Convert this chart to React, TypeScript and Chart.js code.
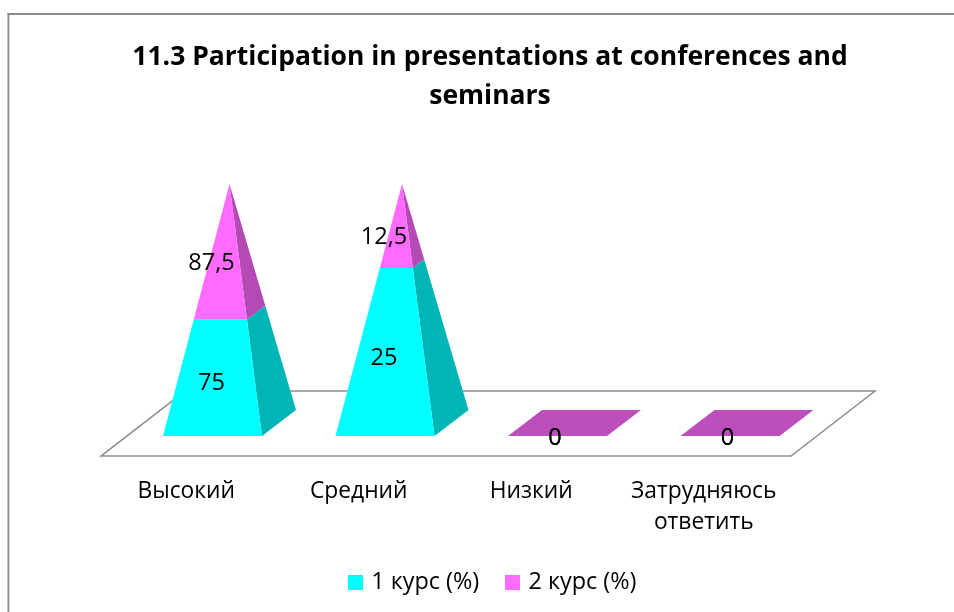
import React, { useEffect, useRef } from "react";
import { Chart, BarController, registerables } from "chart.js";

const categories: (string | string[])[] = ["Высокий", "Средний", "Низкий", ["Затрудняюсь", "ответить"]];
const course1 = [75, 25, 0, 0];
const course2 = [87.5, 12.5, 0, 0];
const titleLines = ["11.3 Participation in presentations at conferences and", "seminars"];
const FONT = "'Open Sans', sans-serif";

const DEPTH_X = 34;
const DEPTH_Y = 26;
const FLOOR_DX = 84;
const FLOOR_DY = 65;
const SHIFT_X = 25.25;

const share = (a: number, b: number) => (a + b > 0 ? (a / (a + b)) * 100 : 0);

const swatch = (color: string) => {
  const c = document.createElement("canvas");
  c.width = 15;
  c.height = 15;
  const g = c.getContext("2d") as CanvasRenderingContext2D;
  g.fillStyle = color;
  g.fillRect(0, 0, 15, 15);
  return c;
};

class PyramidController extends BarController {
  static id = "pyramid";
  static defaults = BarController.defaults;
  static overrides = BarController.overrides;
  draw() {
    const meta: any = this.getMeta();
    const ctx = this.chart.ctx;
    const ds: any = this.getDataset();
    const yScale: any = meta.vScale;
    const y0 = yScale.getPixelForValue(0);
    const yTop = yScale.getPixelForValue(100);
    meta.data.forEach((el: any, i: number) => {
      const xc = el.x + SHIFT_X;
      const w = el.width;
      const FL = [xc - w / 2, y0];
      const FR = [xc + w / 2, y0];
      const BR = [xc + w / 2 + DEPTH_X, y0 - DEPTH_Y];
      const BL = [xc - w / 2 + DEPTH_X, y0 - DEPTH_Y];
      const total = course1[i] + course2[i];
      const poly = (pts: number[][], fill: string) => {
        ctx.beginPath();
        pts.forEach((p, k) => (k ? ctx.lineTo(p[0], p[1]) : ctx.moveTo(p[0], p[1])));
        ctx.closePath();
        ctx.fillStyle = fill;
        ctx.fill();
      };
      if (total === 0) {
        if (ds.flatColor) poly([FL, FR, BR, BL], ds.flatColor);
        return;
      }
      const apex = [xc + DEPTH_X / 2, yTop];
      const at = (c: number[], t: number) => [c[0] + (apex[0] - c[0]) * t, c[1] + (apex[1] - c[1]) * t];
      const t0 = (y0 - el.base) / (y0 - yTop);
      const t1 = (y0 - el.y) / (y0 - yTop);
      poly([at(FR, t0), at(BR, t0), at(BR, t1), at(FR, t1)], ds.sideColor);
      poly([at(FL, t0), at(FR, t0), at(FR, t1), at(FL, t1)], ds.backgroundColor);
    });
  }
}

Chart.register(...registerables, PyramidController as any);

const framePlugin = {
  id: "frame",
  afterLayout(chart: any) {
    chart.legend.left += 4;
    chart.legend.right += 4;
  },
  beforeDraw(chart: any) {
    const { ctx, width, height } = chart;
    ctx.save();
    ctx.fillStyle = "#ffffff";
    ctx.fillRect(0, 0, width, height);
    ctx.fillStyle = "#8c8c8c";
    ctx.fillRect(7.5, 13, width - 7.5, 2);
    ctx.fillRect(7.5, 13, 1.8, height - 13);
    ctx.restore();
  },
  beforeDatasetsDraw(chart: any) {
    const { ctx, chartArea: a } = chart;
    ctx.save();
    ctx.strokeStyle = "#8f8f8f";
    ctx.lineWidth = 1.5;
    ctx.beginPath();
    ctx.moveTo(a.left, a.bottom);
    ctx.lineTo(a.right, a.bottom);
    ctx.lineTo(a.right + FLOOR_DX, a.bottom - FLOOR_DY);
    ctx.lineTo(a.left + FLOOR_DX, a.bottom - FLOOR_DY);
    ctx.closePath();
    ctx.stroke();
    ctx.restore();
  },
  afterDatasetsDraw(chart: any) {
    const { ctx } = chart;
    ctx.save();
    ctx.fillStyle = "#000000";
    ctx.font = `23.5px ${FONT}`;
    ctx.textAlign = "center";
    ctx.textBaseline = "middle";
    chart.data.datasets.forEach((ds: any, d: number) => {
      chart.getDatasetMeta(d).data.forEach((el: any, i: number) => {
        const v = ds.rawValues[i];
        const mid = (el.y + el.base) / 2;
        const x = el.x + SHIFT_X + (v === 0 ? -2.5 : -1);
        const y = v === 0 ? mid + 2 : mid + ds.labelShift;
        ctx.fillText(String(v).replace(".", ","), x, y);
      });
    });
    ctx.restore();
  },
};

export default function App() {
  const ref = useRef<HTMLCanvasElement>(null);
  useEffect(() => {
    const chart = new Chart(ref.current as HTMLCanvasElement, {
      type: "pyramid" as any,
      plugins: [framePlugin],
      data: {
        labels: categories as any,
        datasets: [
          {
            label: "1 курс (%)",
            data: course1.map((v, i) => share(v, course2[i])),
            rawValues: course1,
            backgroundColor: "#00FFFF",
            sideColor: "#00B5B5",
            labelShift: 6,
            clip: false,
            barPercentage: 0.574,
            categoryPercentage: 1,
          } as any,
          {
            label: "2 курс (%)",
            data: course2.map((v, i) => share(v, course1[i])),
            rawValues: course2,
            backgroundColor: "#FF6BFF",
            sideColor: "#B44AB4",
            flatColor: "#BD4FBD",
            labelShift: 11.5,
            clip: false,
            barPercentage: 0.574,
            categoryPercentage: 1,
          } as any,
        ],
      },
      options: {
        responsive: false,
        animation: false,
        layout: { padding: { left: 26, right: 0, top: 0, bottom: 8 } },
        scales: {
          x: {
            stacked: true,
            grid: { display: false },
            border: { display: false },
            ticks: {
              autoSkip: false,
              maxRotation: 0,
              padding: 12,
              labelOffset: -1,
              color: "#000000",
              font: { family: FONT, size: 22.8, lineHeight: 1.36 },
            },
            afterFit: (s: any) => {
              s.height = 85;
            },
          },
          y: {
            stacked: true,
            min: -8,
            max: 100,
            grid: { display: false },
            border: { display: false },
            ticks: { display: false },
            afterFit: (s: any) => {
              s.width = 75;
            },
          },
          yRight: {
            position: "right",
            min: 0,
            max: 1,
            grid: { display: false },
            border: { display: false },
            ticks: { display: false },
            afterFit: (s: any) => {
              s.width = 163;
            },
          },
        } as any,
        plugins: {
          title: {
            display: true,
            text: titleLines,
            color: "#000000",
            font: { family: FONT, size: 26.5, weight: "bold", lineHeight: 1.472 },
            padding: { top: 37.5, bottom: 68.5 },
          },
          legend: {
            display: true,
            position: "bottom",
            labels: {
              usePointStyle: true,
              pointStyleWidth: 8,
              boxHeight: 15,
              padding: 29.5,
              color: "#000000",
              font: { family: FONT, size: 23.4 },
              generateLabels: (c: any) =>
                (Chart.defaults.plugins.legend.labels as any)
                  .generateLabels(c)
                  .map((l: any) => ({ ...l, pointStyle: swatch(l.fillStyle) })),
            },
          },
          tooltip: { enabled: false },
        },
      },
    });
    return () => chart.destroy();
  }, []);
  return (
    <div style={{ position: "fixed", left: 0, top: 0, width: 954, height: 612, overflow: "hidden" }}>
      <canvas ref={ref} width={954} height={612} style={{ display: "block" }} />
    </div>
  );
}
